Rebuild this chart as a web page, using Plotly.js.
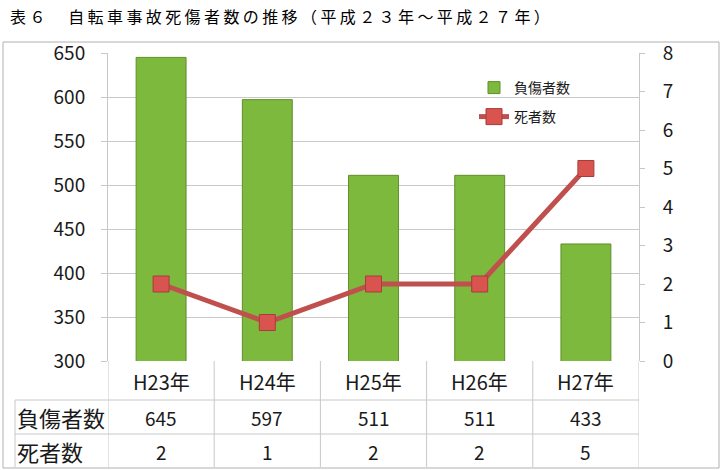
<!DOCTYPE html>
<html><head><meta charset="utf-8">
<script src="https://cdn.plot.ly/plotly-3.0.1.min.js"></script>
<style>html,body{margin:0;padding:0;background:#fff}</style>
</head><body>
<div id="chart" style="width:724px;height:470px"></div>
<script>
const categories = ['H23年','H24年','H25年','H26年','H27年'];
const injured = [645, 597, 511, 511, 433];
const deaths = [2, 1, 2, 2, 5];
const seriesNames = ['負傷者数', '死者数'];
const titleText = '表６　自転車事故死傷者数の推移（平成２３年～平成２７年）';

const W = 724, H = 470, L = 108, R = 639, T = 53, B = 361;
const xp = px => (px - L) / (R - L);
const yp = py => (B - py) / (B - T);
const FONT = '"Noto Sans CJK JP", "Noto Sans", sans-serif';
const grid = '#c8c8c8';
const ink = '#1a1a1a';

const traces = [
  {type:'bar', name:seriesNames[0], x:categories, y:injured, width:0.47, legend:'legend',
   marker:{color:'#7db93c', line:{color:'#5f8f2a', width:1}}, yaxis:'y', hoverinfo:'y'},
  {type:'scatter', mode:'lines+markers', name:seriesNames[1], x:categories, y:deaths, yaxis:'y2', legend:'legend2',
   line:{color:'#c0504d', width:5}, marker:{symbol:'square', size:16, color:'#d9534f', line:{color:'#a83c39', width:1}}}
];

const shapes = [];
const annotations = [];
// outer frame
shapes.push({type:'rect', xref:'paper', yref:'paper', x0:xp(3), x1:xp(719), y0:yp(468), y1:yp(42), line:{color:'#b0b0b0', width:1}, layer:'below'});
// table vertical lines at category boundaries
for (let i = 0; i <= categories.length; i++) {
  shapes.push({type:'line', xref:'x', yref:'paper', x0:i-0.5, x1:i-0.5, y0:yp(467), y1:yp(361), line:{color:grid, width:1}});
}
shapes.push({type:'line', xref:'paper', yref:'paper', x0:xp(15), x1:xp(15), y0:yp(467), y1:yp(400), line:{color:grid, width:1}});
[400, 434].forEach(py => shapes.push({type:'line', xref:'paper', yref:'paper', x0:xp(15), x1:1, y0:yp(py), y1:yp(py), line:{color:grid, width:1}}));

// table text
const rows = [[seriesNames[0], injured, 417], [seriesNames[1], deaths, 451]];
rows.forEach(([label, vals, py]) => {
  annotations.push({xref:'paper', yref:'paper', x:xp(15), y:yp(py), xanchor:'left', yanchor:'middle', text:label, showarrow:false, font:{family:FONT, size:22, color:ink}});
  vals.forEach((v, i) => annotations.push({xref:'x', yref:'paper', x:i, y:yp(py), xanchor:'center', yanchor:'middle', text:String(v), showarrow:false, font:{family:FONT, size:19, color:ink}}));
});
categories.forEach((c, i) => annotations.push({xref:'x', yref:'paper', x:i, y:yp(381), xanchor:'center', yanchor:'middle', text:c, showarrow:false, font:{family:FONT, size:20, color:ink}}));
// title
annotations.push({xref:'paper', yref:'paper', x:xp(8), y:yp(16), xanchor:'left', yanchor:'middle', text:titleText, showarrow:false, font:{family:FONT, size:16, color:'#000'}});

const legendBase = {xanchor:'left', yanchor:'middle', bgcolor:'rgba(255,255,255,0)',
  font:{family:FONT, size:14, color:ink}, itemwidth:30, borderwidth:0};

const layout = {
  width:W, height:H, margin:{l:L, r:W-R, t:T, b:H-B, pad:0},
  paper_bgcolor:'#fff', plot_bgcolor:'#fff', showlegend:true,
  font:{family:FONT, size:19, color:ink},
  xaxis:{type:'category', range:[-0.5, 4.5], showticklabels:false, showgrid:false, zeroline:false, showline:false, ticks:''},
  yaxis:{range:[300, 650], dtick:50, showgrid:true, gridcolor:grid, gridwidth:1, zeroline:false,
         showline:true, linecolor:grid, ticks:'outside', ticklen:6, tickcolor:grid, ticklabelstandoff:12,
         tickfont:{family:FONT, size:19, color:ink}},
  yaxis2:{range:[0, 8], dtick:1, overlaying:'y', side:'right', showgrid:false, zeroline:false,
          showline:true, linecolor:grid, ticks:'outside', ticklen:5, tickcolor:grid, ticklabelstandoff:14,
          tickfont:{family:FONT, size:19, color:ink}},
  legend:Object.assign({}, legendBase, {x:xp(474), y:yp(88)}),
  legend2:Object.assign({}, legendBase, {x:xp(474), y:yp(117)}),
  bargap:0.53, shapes:shapes, annotations:annotations
};

Plotly.newPlot('chart', traces, layout, {displayModeBar:false, staticPlot:true}).then(() => {
  document.querySelectorAll('.annotation-text').forEach(t => {
    if (t.textContent === titleText) {
      const bb = t.getBBox();
      t.style.letterSpacing = '3.4px';
      t.setAttribute('text-anchor', 'start');
      t.setAttribute('x', bb.x);
    }
  });
});
</script>
</body></html>
